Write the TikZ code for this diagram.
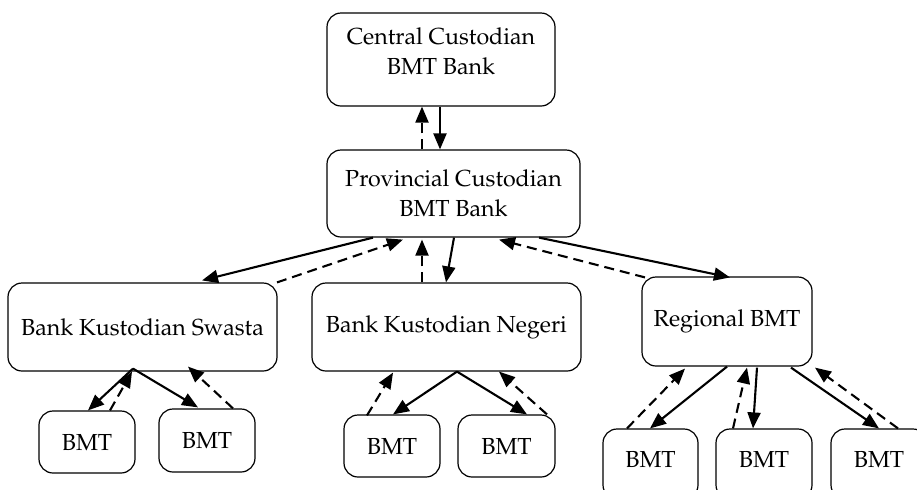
\documentclass[tikz,border=0pt]{standalone}
\usepackage[T1]{fontenc}
\usepackage{mathpazo}
\usetikzlibrary{arrows.meta,calc}
\tikzset{
  box/.style={draw=black, line width=0.6pt, rounded corners=7pt, align=center, inner sep=0pt, font=\fontsize{11.6}{15}\selectfont},
  conn/.style={line width=1.05pt, -{Triangle[length=8pt,width=6.5pt]}},
  back/.style={conn, dash pattern=on 5pt off 3pt},
}
\newcommand{\dropstrut}[1]{\rule[-#1]{0pt}{#1}}
\begin{document}
\begin{tikzpicture}[x=0.5pt,y=-0.5pt]
\useasboundingbox (0,0) rectangle (917,489);
% nodes
\node[box, minimum width=114pt, minimum height=46.5pt] (c) at (441,59.5) {Central Custodian\\BMT Bank\dropstrut{8pt}};
\node[box, minimum width=126.5pt, minimum height=43.5pt] (p) at (453.5,193.5) {Provincial Custodian\\BMT Bank};
\node[box, minimum width=134.5pt, minimum height=44pt] (s) at (142.5,327) {Bank Kustodian Swasta};
\node[box, minimum width=134.5pt, minimum height=44pt] (n) at (446.5,327) {Bank Kustodian Negeri};
\node[box, minimum width=85pt, minimum height=44.5pt] (r) at (727,321.5) {Regional BMT};
\node[box, minimum width=48pt, minimum height=31pt] (b1) at (87,442) {BMT};
\node[box, minimum width=48pt, minimum height=31.5pt] (b2) at (207,440.5) {BMT};
\node[box, minimum width=48pt, minimum height=31pt] (b3) at (392,446) {BMT};
\node[box, minimum width=48.5pt, minimum height=31pt] (b4) at (506.5,446) {BMT};
\node[box, minimum width=47.5pt, minimum height=35pt] (b5) at (650.5,464) {BMT\dropstrut{5pt}};
\node[box, minimum width=48pt, minimum height=35pt] (b6) at (764,464) {BMT\dropstrut{5pt}};
\node[box, minimum width=48pt, minimum height=35pt] (b7) at (879,464) {BMT\dropstrut{5pt}};
% central - provincial
\draw[conn] ($(c.south)+(-1,0)$) -- ($(p.north)+(-13.5,0)$);
\draw[back] ($(p.north)+(-31.5,0)$) -- ($(c.south)+(-19,0)$);
% provincial - second row
\draw[conn] ($(p.south)+(-80.5,0)$) -- ($(s.north)+(59.5,-2)$);
\draw[back] ($(s.north)+(134.5,0)$) -- ($(p.south)+(-50.5,2)$);
\draw[back] ($(n.north)+(-24.5,0)$) -- ($(p.south)+(-31.5,2)$);
\draw[conn] ($(p.south)+(0.5,0)$) -- ($(n.north)+(-0.5,0)$);
\draw[back] ($(r.north)+(-82,1)$) -- ($(p.south)+(45.5,2)$);
\draw[conn] ($(p.south)+(85.5,0)$) -- ($(r.north)+(3,1)$);
% swasta subtree
\draw[conn] ($(s.south)+(-9.5,-3)$) -- ($(b1.north)+(1,0)$);
\draw[back] ($(b1.north)+(23,0)$) -- ($(s.south)+(-10.5,0)$);
\draw[conn] ($(s.south)+(-9.5,-3)$) -- ($(b2.north)+(-9,-1)$);
\draw[back] ($(b2.north)+(26,0)$) -- ($(s.south)+(45.5,-5)$);
% negeri subtree
\draw[conn] ($(n.south)+(10.5,0)$) -- ($(b3.north)+(1,0)$);
\draw[back] ($(b3.north)+(-25,1)$) -- ($(n.south)+(-53.5,1)$);
\draw[conn] ($(n.south)+(10.5,0)$) -- ($(b4.north)+(20.5,0)$);
\draw[back] ($(b4.north)+(40.5,0)$) -- ($(n.south)+(52.5,0)$);
% regional subtree
\draw[conn] ($(r.south)+(0,0)$) -- ($(b5.north)+(-0.5,0)$);
\draw[back] ($(b5.north)+(-23.5,0)$) -- ($(r.south)+(-42,2)$);
\draw[back] ($(b6.north)+(-31,0)$) -- ($(r.south)+(20,1)$);
\draw[conn] ($(r.south)+(30,1)$) -- ($(b6.north)+(-11,0)$);
\draw[conn] ($(r.south)+(64,1)$) -- ($(b7.north)+(0,0)$);
\draw[back] ($(b7.north)+(19,0)$) -- ($(r.south)+(88,1)$);
\end{tikzpicture}
\end{document}
